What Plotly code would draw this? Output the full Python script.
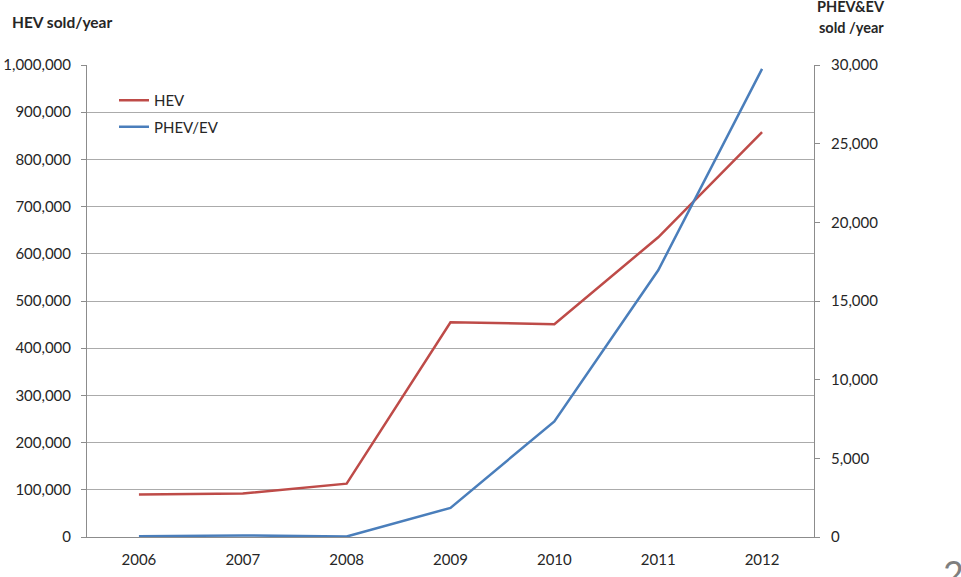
import plotly.graph_objects as go

years = ["2006", "2007", "2008", "2009", "2010", "2011", "2012"]
hev_sold = [90000, 92000, 113000, 455000, 451000, 635000, 858000]
phev_ev_sold = [50, 100, 30, 1850, 7350, 16950, 29750]

left_ticks = list(range(0, 1000001, 100000))
right_ticks = list(range(0, 30001, 5000))

RED = "#BE4B48"
BLUE = "#4A7EBB"
GRID = "#ABABAB"
AXIS = "#8C8C8C"
TXT = "#262626"
FONT = "Lato"

W, H = 961, 577
ML, MR, MT, MB = 87, 147, 65, 40
PW, PH = W - ML - MR, H - MT - MB


def px(xp):
    return (xp - ML) / PW


def py(yp):
    return (H - MB - yp) / PH


fig = go.Figure()
fig.add_trace(go.Scatter(x=years, y=hev_sold, name="HEV", mode="lines",
                         line=dict(color=RED, width=2.5), legendgroup="a", yaxis="y"))
fig.add_trace(go.Scatter(x=years, y=phev_ev_sold, name="PHEV/EV", mode="lines",
                         line=dict(color=BLUE, width=2.5), legendgroup="b", yaxis="y2"))

fig.update_layout(
    width=W, height=H,
    margin=dict(l=ML, r=MR, t=MT, b=MB, pad=0, autoexpand=False),
    paper_bgcolor="white", plot_bgcolor="white",
    font=dict(family=FONT, size=15, color=TXT),
    showlegend=True,
    legend=dict(x=px(114), y=py(84), xanchor="left", yanchor="top",
                bgcolor="rgba(0,0,0,0)", borderwidth=0, tracegroupgap=4,
                font=dict(family=FONT, size=15, color=TXT), itemwidth=30),
    xaxis=dict(type="category", range=[-0.5, 6.5], showgrid=False, automargin=False,
               showline=True, linecolor=AXIS, linewidth=1, ticks="",
               ticklabelstandoff=9,
               tickfont=dict(family=FONT, size=15, color=TXT), zeroline=False),
    yaxis=dict(range=[0, 1000000], tickvals=left_ticks, tickformat=",", automargin=False,
               showgrid=True, gridcolor=GRID, gridwidth=1,
               showline=True, linecolor=AXIS, linewidth=1,
               ticks="outside", ticklen=5, tickcolor=AXIS,
               ticklabelstandoff=7, zeroline=False,
               tickfont=dict(family=FONT, size=15, color=TXT)),
    yaxis2=dict(range=[0, 30000], tickvals=right_ticks, tickformat=",", automargin=False,
                overlaying="y", side="right", showgrid=False,
                showline=True, linecolor=AXIS, linewidth=1,
                ticks="outside", ticklen=5, tickcolor=AXIS,
                ticklabelstandoff=8, zeroline=False,
                tickfont=dict(family=FONT, size=15, color=TXT)),
)

annots = [
    dict(text="<b>HEV sold/year</b>", x=px(10), y=py(22), xanchor="left", yanchor="middle",
         font=dict(family=FONT, size=15.5, color=TXT)),
    dict(text="<b>PHEV&amp;EV</b>", x=px(851), y=py(6), xanchor="center", yanchor="middle",
         font=dict(family=FONT, size=14.5, color=TXT)),
    dict(text="<b>sold /year</b>", x=px(851), y=py(27), xanchor="center", yanchor="middle",
         font=dict(family=FONT, size=14.5, color=TXT)),
    dict(text="2", x=px(953), y=py(549), xanchor="center", yanchor="top",
         font=dict(family=FONT, size=36, color="#7F7F7F")),
]
for a in annots:
    fig.add_annotation(xref="paper", yref="paper", showarrow=False, **a)

fig.write_html("out.html")
